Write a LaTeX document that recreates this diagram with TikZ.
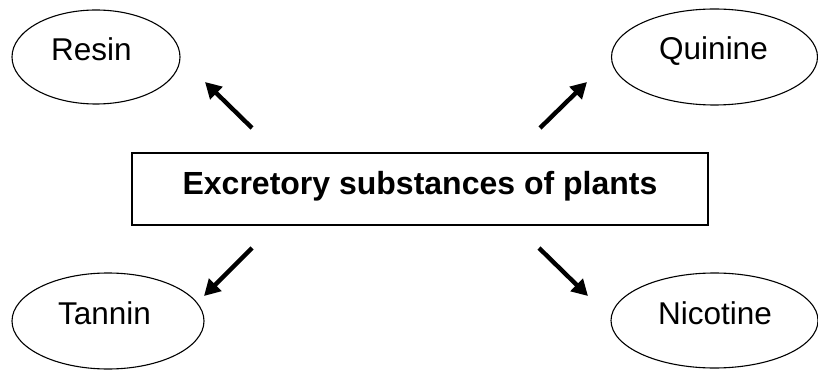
\documentclass[tikz,border=0pt]{standalone}
\usepackage{fontspec}
\setmainfont{Liberation Sans}
\usetikzlibrary{shapes.geometric,arrows.meta}
\begin{document}
\begin{tikzpicture}[x=1pt,y=-1pt,
  oval/.style={draw,ellipse,line width=1.1pt,inner sep=0pt,outer sep=0pt},
  lbl/.style={anchor=base,inner sep=0pt,font=\fontsize{31.5}{36}\selectfont},
  mainbox/.style={draw,line width=1.8pt,minimum width=576pt,minimum height=72pt,inner sep=0pt,font=\fontsize{32}{36}\selectfont\bfseries},
  arr/.style={line width=4.4pt,-{Triangle[length=16pt,width=17pt]}}]
\useasboundingbox (0,0) rectangle (818,371);
\node[mainbox] (box) at (420,189) {\raisebox{3pt}[\height][\depth]{Excretory substances of plants}};
\node[oval,minimum width=168pt,minimum height=94pt] (resin) at (96,57) {};
\node[lbl] (resinT) at (91.5,61) {Resin};
\node[oval,minimum width=206pt,minimum height=96pt] (quinine) at (714.5,57) {};
\node[lbl] (quinineT) at (713.5,60) {Quinine};
\node[oval,minimum width=192pt,minimum height=96pt] (tannin) at (108,321) {};
\node[lbl] (tanninT) at (104.5,324) {Tannin};
\node[oval,minimum width=207pt,minimum height=95pt] (nicotine) at (714.5,320.5) {};
\node[lbl] (nicotineT) at (715,324) {Nicotine};
\coordinate (a1s) at (252,128); \coordinate (a1e) at (205,82);
\coordinate (a2s) at (540,128); \coordinate (a2e) at (587,82);
\coordinate (a3s) at (252,248); \coordinate (a3e) at (204,296);
\coordinate (a4s) at (539,248); \coordinate (a4e) at (588,296);
\draw[arr] (a1s) -- (a1e);
\draw[arr] (a2s) -- (a2e);
\draw[arr] (a3s) -- (a3e);
\draw[arr] (a4s) -- (a4e);
\end{tikzpicture}
\end{document}
